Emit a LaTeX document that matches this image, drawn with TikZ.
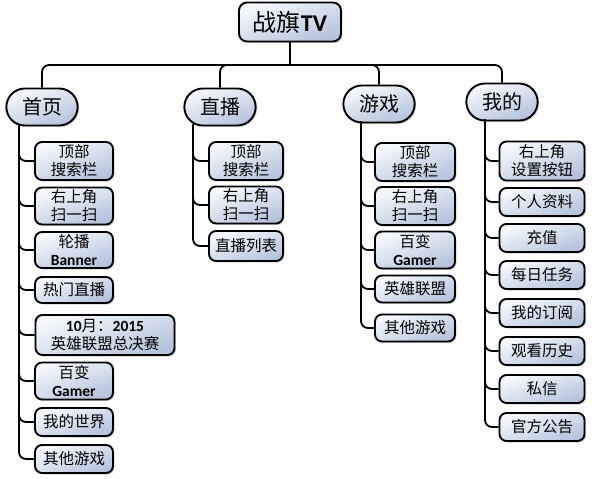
\documentclass[tikz,border=0pt]{standalone}
\usepackage{fontspec}
\setmainfont{Noto Sans CJK SC}
\newfontfamily\latinb{Carlito}
\usepackage{tikz}
\usetikzlibrary{shapes.misc, shadows, positioning, calc}

\definecolor{boxlight}{RGB}{246,248,252}
\definecolor{boxdark}{RGB}{180,196,220}

\tikzset{
  boxfill/.style={draw, line width=1.9pt, top color=boxlight, bottom color=boxdark, shading angle=20,
    drop shadow={shadow xshift=1.5pt, shadow yshift=-1.5pt, opacity=0.35}},
  rootbox/.style={boxfill, rounded corners=8pt, minimum width=102pt, minimum height=39pt,
    font=\fontsize{24}{28}\selectfont},
  tabbox/.style={boxfill, rounded rectangle, minimum width=78pt, minimum height=37pt,
    font=\fontsize{20}{22}\selectfont},
  leaf/.style={boxfill, rounded corners=7pt, align=center, inner sep=1pt, minimum height=28pt,
    font=\fontsize{15.5}{18}\selectfont},
  link/.style={line width=1.8pt, rounded corners=7pt}
}
\newcommand{\lat}[1]{{\latinb\bfseries #1}}

\begin{document}
\begin{tikzpicture}[x=1pt, y=-1pt]
    \useasboundingbox (0,0) rectangle (592,479);

    % Nodes
    \node[rootbox] (root) at (290,22) {战旗\lat{TV}};

    \node[tabbox] (shouye) at (42,107) {首页};
    \node[tabbox] (zhibo) at (220,107) {直播};
    \node[tabbox] (youxi) at (379,104) {游戏};
    \node[tabbox] (wode) at (502,102) {我的};

    % 首页
    \node[leaf, minimum width=78pt, minimum height=38pt] (sy1) at (74,161) {顶部\\搜索栏};
    \node[leaf, minimum width=78pt, minimum height=37pt] (sy2) at (74,206) {右上角\\扫一扫};
    \node[leaf, minimum width=78pt, minimum height=36pt] (sy3) at (74,250) {轮播\\\lat{Banner}};
    \node[leaf, minimum width=78pt, minimum height=26pt] (sy4) at (74,290) {热门直播};
    \node[leaf, minimum width=139pt, minimum height=40pt] (sy5) at (105,335) {\lat{10}月：\lat{2015}\\英雄联盟总决赛};
    \node[leaf, minimum width=78pt, minimum height=37pt] (sy6) at (74,381) {百变\\\lat{Gamer}};
    \node[leaf, minimum width=78pt] (sy7) at (74,422) {我的世界};
    \node[leaf, minimum width=78pt] (sy8) at (74,459) {其他游戏};

    % 直播
    \node[leaf, minimum width=74pt, minimum height=38pt] (zb1) at (246,161) {顶部\\搜索栏};
    \node[leaf, minimum width=74pt, minimum height=37pt] (zb2) at (246,205) {右上角\\扫一扫};
    \node[leaf, minimum width=74pt, minimum height=30pt] (zb3) at (246,246) {直播列表};

    % 游戏
    \node[leaf, minimum width=80pt, minimum height=38pt] (yx1) at (415,162) {顶部\\搜索栏};
    \node[leaf, minimum width=80pt, minimum height=38pt] (yx2) at (415,206) {右上角\\扫一扫};
    \node[leaf, minimum width=80pt, minimum height=37pt] (yx3) at (415,250) {百变\\\lat{Gamer}};
    \node[leaf, minimum width=80pt, minimum height=27pt] (yx4) at (415,289) {英雄联盟};
    \node[leaf, minimum width=80pt, minimum height=27pt] (yx5) at (415,328) {其他游戏};

    % 我的
    \node[leaf, minimum width=85pt, minimum height=39pt] (wd1) at (542,161) {右上角\\设置按钮};
    \node[leaf, minimum width=85pt] (wd2) at (542,202) {个人资料};
    \node[leaf, minimum width=85pt] (wd3) at (542,238) {充值};
    \node[leaf, minimum width=85pt] (wd4) at (542,275) {每日任务};
    \node[leaf, minimum width=85pt] (wd5) at (542,313) {我的订阅};
    \node[leaf, minimum width=85pt] (wd6) at (542,351) {观看历史};
    \node[leaf, minimum width=85pt] (wd7) at (542,389) {私信};
    \node[leaf, minimum width=85pt] (wd8) at (542,427) {官方公告};

    % Edges
    \coordinate (bus) at (root.south |- 0,65);
    \draw[link] (root.south) -- (bus);
    \foreach \tab in {shouye, zhibo, youxi, wode}
        \draw[link] (bus) -| (\tab.north);

    \coordinate (sy-line) at (19,0);
    \coordinate (zb-line) at (193,0);
    \coordinate (yx-line) at (361,0);
    \coordinate (wd-line) at (485,0);

    \foreach \i in {1,...,8}
        \draw[link] ($(shouye.south -| sy-line)+(0,-2)$) |- (sy\i.west);
    \foreach \i in {1,...,3}
        \draw[link] ($(zhibo.south -| zb-line)+(0,-2)$) |- (zb\i.west);
    \foreach \i in {1,...,5}
        \draw[link] ($(youxi.south -| yx-line)+(0,-2)$) |- (yx\i.west);
    \foreach \i in {1,...,8}
        \draw[link] ($(wode.south -| wd-line)+(0,-2)$) |- (wd\i.west);
\end{tikzpicture}
\end{document}
